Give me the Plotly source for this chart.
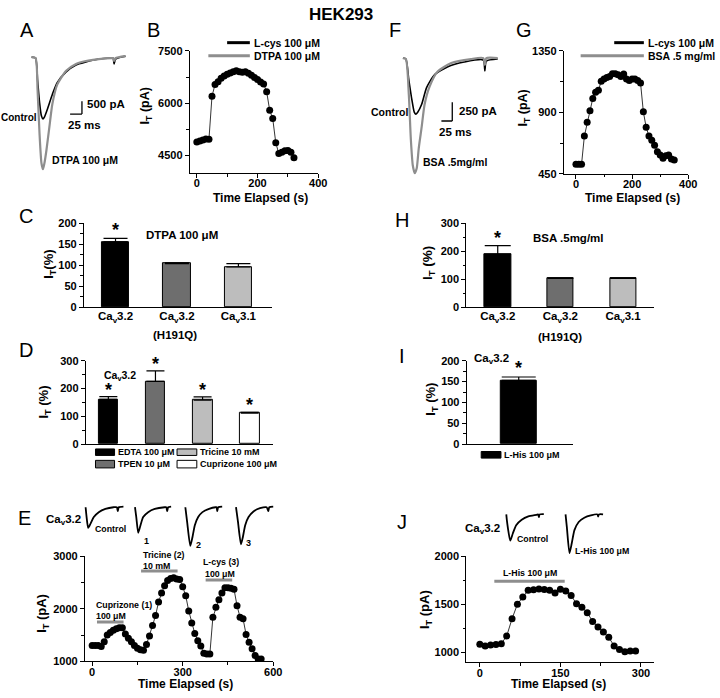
import plotly.graph_objects as go

W, H = 720, 698
FONT = "Liberation Sans, Arial, sans-serif"
BLACK = "#000000"
DGREY = "#6e6e6e"
LGREY = "#bdbdbd"
TGREY = "#8e8e8e"

# ------------------------------------------------------------------ data
# B: L-cys time course (DTPA)
B_time = list(range(0, 330, 10))
B_current = [4890, 4920, 4950, 4975, 4970, 6200, 6540, 6620, 6720, 6780, 6830,
             6870, 6900, 6930, 6900, 6890, 6900, 6860, 6800, 6740, 6680, 6610,
             6550, 6330, 5800, 5560, 4870, 4560, 4600, 4640, 4650, 4600, 4440]
# G: L-cys time course (BSA)
G_time = list(range(0, 360, 10))
G_current = [520, 520, 520, 726, 827, 911, 1002, 1048, 1062, 1127, 1144, 1156,
             1163, 1182, 1182, 1175, 1163, 1180, 1144, 1134, 1144, 1144, 1134,
             1115, 904, 791, 726, 695, 659, 611, 587, 563, 582, 587, 558, 551]
# E: Cuprizone / Tricine / L-cys time course
E_time = list(range(0, 570, 10))
E_current = [1300, 1300, 1300, 1280, 1370, 1500, 1550, 1590, 1620, 1640,
             1640, 1520, 1440, 1370, 1300, 1250, 1220, 1210, 1320, 1480,
             1680, 1870, 2130, 2300, 2440, 2540, 2580, 2590, 2570, 2560,
             2420, 2250, 1960, 1730, 1530, 1390, 1290, 1150, 1140, 1140,
             1840, 2030, 2175, 2300, 2400, 2400, 2390, 2375, 2060, 1840,
             1810, 1510, 1360, 1240, 1110, 1045, 1045]
# J: L-His time course
J_time = list(range(0, 300, 10))
J_current = [1086, 1069, 1079, 1083, 1093, 1172, 1352, 1503, 1579, 1648, 1652,
             1662, 1655, 1648, 1620, 1659, 1641, 1593, 1507, 1472, 1414, 1324,
             1265, 1214, 1159, 1069, 1031, 1010, 1017, 1017]

# bar panels
CH_labels = ["Ca<sub>v</sub>3.2", "Ca<sub>v</sub>3.2", "Ca<sub>v</sub>3.1"]
C_values = [156, 104, 96]
C_errors = [8, 2, 8]
H_values = [189, 103, 103]
H_errors = [31, 2, 2]
D_labels = ["EDTA 100 \u03bcM", "TPEN 10 \u03bcM", "Tricine 10 mM", "Cuprizone 100 \u03bcM"]
D_values = [161, 226, 158, 111]
D_errors = [10, 38, 12, 3]
I_labels = ["L-His 100 \u03bcM"]
I_values = [153]
I_errors = [8]

# current traces (time in ms, current in pA relative to baseline)
A_ctrl_t = [0, 8.3, 12.5, 16.7, 20.8, 24, 27, 33.3, 43.7, 54, 72.9, 93.7, 114.6, 141.7, 168.7, 172, 174, 177, 198]
A_ctrl_i = [0, -38, -885, -1770, -2308, -2423, -2346, -2038, -1461, -1000, -577, -308, -192, -77, -38, -38, -270, -77, 38]
A_dtpa_t = [0, 8.3, 12.5, 16.7, 20.8, 24, 27, 31.2, 37.5, 43.7, 54, 72.9, 93.7, 114.6, 141.7, 168.7, 172, 174, 177, 198]
A_dtpa_i = [0, -38, -1270, -3000, -4154, -4385, -4154, -3654, -2731, -1846, -1077, -538, -269, -154, -77, -38, -38, -150, -38, 38]
F_ctrl_t = [0, 6.8, 13.6, 20.5, 26.1, 29.5, 34.1, 43.2, 54.5, 72.7, 102.3, 140.9, 185, 188.6, 192, 218.2]
F_ctrl_i = [0, -13, -290, -553, -724, -750, -724, -618, -395, -224, -118, -53, -26, -171, -40, -13]
F_bsa_t = [0, 6.8, 13.6, 18.2, 22.7, 27.3, 31.8, 36.4, 43.2, 50, 61.4, 79.5, 111.4, 156.8, 185, 188.6, 192, 218.2]
F_bsa_i = [0, -13, -487, -1079, -1434, -1540, -1474, -1211, -921, -618, -382, -184, -66, -13, 0, -92, 0, 0]
# E insets
E_ctrl_t = [0, 2, 5.2, 10, 16.6, 26.6, 40, 56.6, 63.2, 65.2, 67.2, 76.6]
E_ctrl_i = [0, -400, -840, -668, -400, -200, -68, 0, 0, -160, 0, 28]
E_1_t = [0, 2.6, 6.6, 11.2, 16.6, 26.6, 40, 60, 63.2, 65.2, 67.2, 73.2]
E_1_i = [0, -400, -1040, -732, -400, -200, -68, 0, 0, -160, 0, 28]
E_2_t = [0, 3.6, 10, 14.6, 19.2, 26, 34.6, 48, 61.2, 63.2, 64.6, 66.6, 74.6]
E_2_i = [0, -600, -1572, -1200, -732, -400, -200, -68, 0, 0, -160, 0, 28]
E_3_t = [0, 4, 10, 14, 18.6, 25.4, 35.4, 48.6, 62, 65.4, 67.4, 75.4]
E_3_i = [0, -600, -1508, -1200, -732, -400, -172, -40, 0, -160, 0, 28]
# J insets
J_ctrl_t = [0, 1.6, 8, 13.2, 20, 31.2, 44.6, 61.2, 64.6, 66, 67.6, 76]
J_ctrl_i = [0, -308, -1068, -776, -440, -216, -80, -16, 0, -108, 0, 12]
J_his_t = [0, 2.6, 8, 12.6, 18, 26.6, 38, 51.2, 64.6, 66, 67.6, 76]
J_his_i = [0, -508, -1576, -1176, -640, -308, -136, -40, 0, -88, 0, 0]

# --------------------------------------------------------------- helpers
fig = go.Figure()
layout = {}


def nm(i):
    return ("x", "y") if i == 1 else (f"x{i}", f"y{i}")


def axes(i, box, xr, yr, visible=True, xo=None, yo=None):
    x0, x1, yt, yb = box
    xn, yn = nm(i)
    base = dict(showline=True, linecolor=BLACK, linewidth=1.2, ticks="outside",
                ticklen=4, tickwidth=1.2, tickcolor=BLACK, showgrid=False,
                zeroline=False, fixedrange=True,
                tickfont=dict(family=FONT, size=11, color=BLACK, weight="bold"))
    xa = dict(base, domain=[x0 / W, x1 / W], range=xr, anchor=yn, ticklabelstandoff=-4)
    ya = dict(base, domain=[1 - yb / H, 1 - yt / H], range=yr, anchor=xn)
    if not visible:
        xa = dict(domain=xa["domain"], range=xr, anchor=yn, visible=False, fixedrange=True)
        ya = dict(domain=ya["domain"], range=yr, anchor=xn, visible=False, fixedrange=True)
    if xo:
        xa.update(xo)
    if yo:
        ya.update(yo)
    layout["xaxis" if i == 1 else f"xaxis{i}"] = xa
    layout["yaxis" if i == 1 else f"yaxis{i}"] = ya
    return xn, yn


def minor(d):
    return dict(ticks="outside", ticklen=2.5, tickwidth=1, tickcolor=BLACK, dtick=d, tick0=0)


annotations = []
shapes = []


def txt(x, y, s, size=11, anchor="left", bold=True, angle=0):
    annotations.append(dict(x=x / W, y=1 - y / H, xref="paper", yref="paper", text=s,
                            showarrow=False, xanchor=anchor, yanchor="middle",
                            textangle=angle, borderpad=0,
                            font=dict(family=FONT, size=size, color=BLACK,
                                      weight="bold" if bold else "normal")))


def pline(x0, y0, x1, y1, color, width):
    shapes.append(dict(type="line", xref="paper", yref="paper", x0=x0 / W, x1=x1 / W,
                       y0=1 - y0 / H, y1=1 - y1 / H, line=dict(color=color, width=width)))


def prect(x0, y0, x1, y1, color):
    shapes.append(dict(type="rect", xref="paper", yref="paper", x0=x0 / W, x1=x1 / W,
                       y0=1 - y0 / H, y1=1 - y1 / H, fillcolor=color,
                       line=dict(color=BLACK, width=1)))


def dline(xn, yn, x0, y0, x1, y1, color, width):
    shapes.append(dict(type="line", xref=xn, yref=yn, x0=x0, x1=x1, y0=y0, y1=y1,
                       line=dict(color=color, width=width)))


def timecourse(xn, yn, t, v):
    fig.add_trace(go.Scatter(x=t, y=v, mode="lines+markers", xaxis=xn, yaxis=yn,
                             line=dict(color=BLACK, width=0.8),
                             marker=dict(color=BLACK, size=7), showlegend=False,
                             hoverinfo="skip"))


def wave(xn, yn, t, i, color, width, offset=0):
    fig.add_trace(go.Scatter(x=[a + offset for a in t], y=i, mode="lines", xaxis=xn, yaxis=yn,
                             line=dict(color=color, width=width, shape="spline", smoothing=0.6),
                             showlegend=False, hoverinfo="skip"))


def bars(xn, yn, vals, errs, colors, width, cap):
    fig.add_trace(go.Bar(x=list(range(len(vals))), y=vals, width=width, xaxis=xn, yaxis=yn,
                         marker=dict(color=colors, line=dict(color=BLACK, width=1)),
                         error_y=dict(type="data", array=errs, arrayminus=[0] * len(vals),
                                      symmetric=False, color=BLACK, thickness=1.2, width=cap),
                         showlegend=False, hoverinfo="skip"))


def star(xn, yn, x, y, shift):
    annotations.append(dict(x=x, y=y, xref=xn, yref=yn, text="*", showarrow=False,
                            yanchor="middle", yshift=shift,
                            font=dict(family=FONT, size=18, color=BLACK, weight="bold")))


# ---------------------------------------------------------------- panel A
xa, ya = axes(1, (0, 140, 40, 180), [-66.7, 225], [-4923, 461.5], visible=False)
wave(xa, ya, A_ctrl_t, A_ctrl_i, BLACK, 1.6)
wave(xa, ya, A_dtpa_t, A_dtpa_i, TGREY, 2.2)
SB_A = (106.2, -2231, 25, 500)
dline(xa, ya, SB_A[0] - SB_A[2], SB_A[1], SB_A[0], SB_A[1], BLACK, 1.3)
dline(xa, ya, SB_A[0], SB_A[1], SB_A[0], SB_A[1] + SB_A[3], BLACK, 1.3)
txt(0.5, 113, "Control", 10)
txt(87, 100, "500 pA", 11.5)
txt(68, 121, "25 ms", 11.5)
txt(52, 157, "DTPA 100 \u03bcM", 10.5)

# ---------------------------------------------------------------- panel B
xb, yb = axes(2, (192.3, 322.3, 45.7, 170), [-22.8, 400], [4000, 7500],
              xo=dict(tick0=0, dtick=200, minor=minor(100)),
              yo=dict(tick0=4500, dtick=1500, minor=minor(750)))
timecourse(xb, yb, B_time, B_current)
pline(230, 37.3, 253, 37.3, BLACK, 3)
pline(211, 50.7, 253, 50.7, TGREY, 3)
txt(256, 37.3, "L-cys 100 \u03bcM", 10.5)
txt(256, 50.7, "DTPA 100 \u03bcM", 10.5)
txt(148, 102, "I<sub>T</sub> (pA)", 12.5, anchor="center", angle=-90)
txt(264, 195, "Time Elapsed (s)", 12, anchor="center")

# ---------------------------------------------------------------- panel F
xf, yf = axes(3, (360, 510, 40, 180), [-109.1, 231.8], [-1671, 171], visible=False)
wave(xf, yf, F_ctrl_t, F_ctrl_i, BLACK, 1.6)
wave(xf, yf, F_bsa_t, F_bsa_i, TGREY, 2.2)
SB_F = (113.6, -842, 25, 250)
dline(xf, yf, SB_F[0] - SB_F[2], SB_F[1], SB_F[0], SB_F[1], BLACK, 1.3)
dline(xf, yf, SB_F[0], SB_F[1], SB_F[0], SB_F[1] + SB_F[3], BLACK, 1.3)
txt(374.5, 108, "Control", 10.5)
txt(464, 107, "250 pA", 11.5)
txt(444, 128, "25 ms", 11.5)
txt(427.5, 159, "BSA .5mg/ml", 10.5)

# ---------------------------------------------------------------- panel G
xg, yg = axes(4, (571, 697, 45.7, 170.7), [-43, 400], [450, 1350],
              xo=dict(tick0=0, dtick=200, minor=minor(100)),
              yo=dict(tick0=450, dtick=450, minor=minor(225)))
timecourse(xg, yg, G_time, G_current)
pline(622, 37.3, 652, 37.3, BLACK, 3)
pline(588, 50.7, 652, 50.7, TGREY, 3)
txt(655, 37.3, "L-cys 100 \u03bcM", 10.5)
txt(655, 50.7, "BSA .5 mg/ml", 10.5)
txt(531, 104, "I<sub>T</sub> (pA)", 12.5, anchor="center", angle=-90)
txt(640, 195, "Time Elapsed (s)", 12, anchor="center")

# ---------------------------------------------------------------- panel C
bar_x = dict(tickmode="array", tickvals=[0, 1, 2], ticktext=CH_labels, ticks="",
             ticklabelstandoff=-2,
             tickfont=dict(family=FONT, size=11.5, color=BLACK, weight="bold"))
xc, yc = axes(5, (85, 275, 221, 306.7), [-0.514, 2.54], [0, 200],
              xo=bar_x, yo=dict(tick0=0, dtick=50, minor=minor(25)))
bars(xc, yc, C_values, C_errors, [BLACK, DGREY, LGREY], 0.45, 12)
star(xc, yc, 0, C_values[0] + C_errors[0], 8)
txt(147, 232.7, "DTPA 100 \u03bcM", 11.5)
txt(177.5, 335, "(H191Q)", 11.5, anchor="center")
txt(50, 263, "I<sub>T</sub>(%)", 13, anchor="center", angle=-90)

# ---------------------------------------------------------------- panel H
xh, yh = axes(6, (472.3, 662.7, 221, 306.7), [-0.5, 2.5], [0, 300],
              xo=bar_x, yo=dict(tick0=0, dtick=100, minor=minor(50)))
bars(xh, yh, H_values, H_errors, [BLACK, DGREY, LGREY], 0.42, 13)
star(xh, yh, 0, H_values[0] + H_errors[0], 8)
txt(539, 236, "BSA .5mg/ml", 11.5)
txt(567.5, 336.7, "(H191Q)", 11.5, anchor="center")
txt(434, 262, "I<sub>T</sub> (%)", 13.5, anchor="center", angle=-90)

# ---------------------------------------------------------------- panel D
xd, yd = axes(7, (87, 276.7, 361, 445.7), [-0.476, 3.5], [0, 300],
              xo=dict(showticklabels=False, ticks=""),
              yo=dict(tick0=0, dtick=100, minor=minor(50)))
D_colors = [BLACK, DGREY, LGREY, "#ffffff"]
bars(xd, yd, D_values, D_errors, D_colors, 0.42, 9)
for k in range(4):
    star(xd, yd, k, D_values[k] + D_errors[k], 7)
txt(104, 376.7, "Ca<sub>v</sub>3.2", 10.5)
txt(45, 403, "I<sub>T</sub> (%)", 13, anchor="center", angle=-90)
legend_boxes = [(96.7, 450.7, 116, 457.3), (96.7, 462.3, 116, 470),
                (179.3, 450.7, 199.3, 457.3), (179.3, 462.3, 199.3, 470)]
legend_order = [0, 1, 2, 3]
for k, (x0, y0, x1, y1) in zip(legend_order, legend_boxes):
    prect(x0, y0, x1, y1, D_colors[k])
    txt(x1 + 2.5, (y0 + y1) / 2, D_labels[k], 9)

# ---------------------------------------------------------------- panel I
xi, yi = axes(8, (472.7, 580, 361, 445.7), [-0.877, 0.912], [0, 200],
              xo=dict(showticklabels=False, ticks=""),
              yo=dict(tick0=0, dtick=50, minor=minor(25)))
bars(xi, yi, I_values, I_errors, [BLACK], 0.6, 17)
star(xi, yi, 0, I_values[0] + I_errors[0], 9)
txt(479, 359.3, "Ca<sub>v</sub>3.2", 11.5)
txt(437, 400, "I<sub>T</sub> (%)", 13, anchor="center", angle=-90)
prect(487.3, 453.3, 507.3, 460, BLACK)
txt(509.5, 456.7, I_labels[0], 9)

# ---------------------------------------------------------------- panel E
xei, yei = axes(9, (80, 285, 500, 560), [0, 410], [-2000, 400], visible=False)
E_insets = [(E_ctrl_t, E_ctrl_i, 13.4), (E_1_t, E_1_i, 113.4),
            (E_2_t, E_2_i, 215.4), (E_3_t, E_3_i, 318)]
for t, i, off in E_insets:
    wave(xei, yei, t, i, BLACK, 1.8, off)
txt(46, 523, "Ca<sub>v</sub>3.2", 11.5)
txt(95.5, 532, "Control", 8.8)
txt(148.3, 544, "1", 9, anchor="center")
txt(200.7, 548.3, "2", 9, anchor="center")
txt(251.7, 546.7, "3", 9, anchor="center")

xe, ye = axes(10, (86, 276.7, 560, 666.7), [-24, 600], [1000, 3000],
              xo=dict(tick0=0, dtick=300, minor=minor(150)),
              yo=dict(tick0=1000, dtick=1000, minor=minor(500)))
timecourse(xe, ye, E_time, E_current)
E_apps = [(16, 104, 1750), (162, 283, 2719), (376, 464, 2550)]
for a0, a1, lvl in E_apps:
    dline(xe, ye, a0, lvl, a1, lvl, TGREY, 3)
txt(96, 609.3, "Cuprizone (1)", 8.8)
txt(96.5, 620.7, "100 \u03bcM", 8.8)
txt(143.5, 558.3, "Tricine (2)", 8.8)
txt(143.5, 570, "10 mM", 8.8)
txt(204.5, 566, "L-cys (3)", 8.8)
txt(206.5, 578.3, "100 \u03bcM", 8.8)
txt(43, 618, "I<sub>T</sub> (pA)", 13, anchor="center", angle=-90)
txt(188, 690, "Time Elapsed (s)", 12, anchor="center")

# ---------------------------------------------------------------- panel J
xji, yji = axes(11, (500, 620, 505, 565), [0, 240], [-1908, 492], visible=False)
wave(xji, yji, J_ctrl_t, J_ctrl_i, BLACK, 1.8, 25.4)
wave(xji, yji, J_his_t, J_his_i, BLACK, 1.8, 145.4)
txt(469.5, 531.7, "Ca<sub>v</sub>3.2", 11.5)
txt(522.5, 542.7, "Control", 8.8)
txt(581, 555, "L-His 100 \u03bcM", 8.8)

xj, yj = axes(12, (472.3, 662.7, 560, 667.7), [-25, 325], [900, 2000],
              xo=dict(tick0=0, dtick=150, minor=minor(75)),
              yo=dict(tick0=1000, dtick=500, minor=minor(250)))
timecourse(xj, yj, J_time, J_current)
dline(xj, yj, 27, 1742, 158, 1742, TGREY, 3)
txt(536.7, 576.7, "L-His 100 \u03bcM", 8.8, anchor="center")
txt(431, 614, "I<sub>T</sub> (pA)", 13, anchor="center", angle=-90)
txt(566, 690, "Time Elapsed (s)", 12, anchor="center")

# ---------------------------------------------------------------- titles
txt(345.5, 9, "HEK293", 17, anchor="center")
for letter, x, y in [("A", 27, 24), ("B", 155, 24), ("F", 400, 24), ("G", 531, 24),
                     ("C", 26, 214), ("H", 407, 218), ("D", 26, 350), ("I", 407, 356),
                     ("E", 25, 521), ("J", 407, 525)]:
    txt(x, y, letter, 20, anchor="center", bold=False)

fig.update_layout(width=W, height=H, margin=dict(l=0, r=0, t=0, b=0),
                  paper_bgcolor="white", plot_bgcolor="white", showlegend=False,
                  annotations=annotations, shapes=shapes, bargap=0, **layout)
CSS_FIX = ("var s=document.documentElement.style;s.margin='0';s.padding='0';"
           "s.overflow='hidden';s.height='698px';"
           "var b=document.body.style;b.margin='0';b.padding='0';"
           "b.overflow='hidden';b.height='698px';b.width='720px';")
fig.write_html("out.html", config={"displayModeBar": False}, post_script=CSS_FIX)
